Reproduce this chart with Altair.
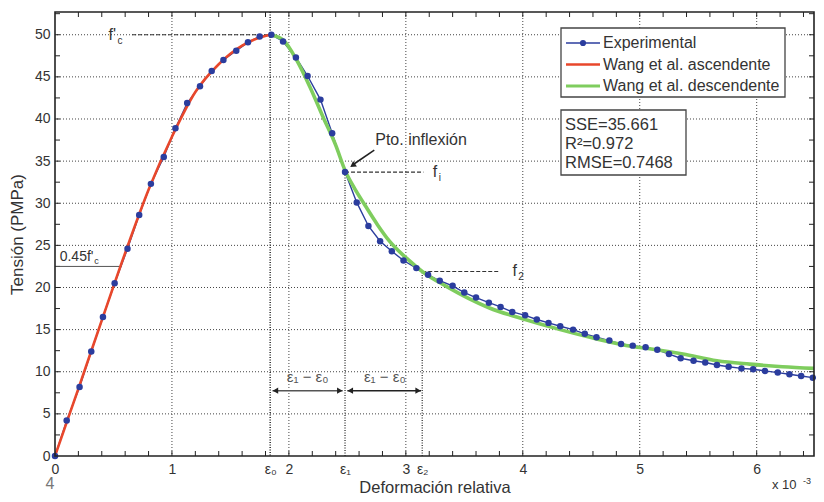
import altair as alt
import pandas as pd

# ---------------- data (x in 1e-3, y in MPa) ----------------
asc_x = [0.00, 0.10, 0.21, 0.31, 0.41, 0.51, 0.62, 0.72, 0.82, 0.93, 1.03, 1.13,
         1.24, 1.34, 1.44, 1.55, 1.65, 1.75, 1.85]
asc_y = [0.0, 4.2, 8.2, 12.4, 16.5, 20.5, 24.6, 28.6, 32.3, 35.5, 38.9, 41.9,
         43.9, 45.7, 47.0, 48.1, 49.1, 49.8, 50.0]
desc_x = [1.95, 2.06, 2.16, 2.27, 2.37, 2.48, 2.58, 2.68, 2.78, 2.88, 2.98, 3.09,
          3.19, 3.29, 3.40, 3.50, 3.60, 3.71, 3.81, 3.91, 4.02, 4.12, 4.22, 4.32,
          4.43, 4.53, 4.63, 4.74, 4.84, 4.94, 5.05, 5.15, 5.25, 5.35, 5.46, 5.56,
          5.66, 5.76, 5.87, 5.97, 6.07, 6.18, 6.28, 6.38, 6.48]
desc_y = [49.2, 47.3, 45.1, 42.3, 38.3, 33.7, 30.1, 27.3, 25.5, 24.3, 23.2, 22.3,
          21.5, 20.8, 20.2, 19.4, 18.8, 18.2, 17.7, 17.1, 16.7, 16.2, 15.8, 15.4,
          15.0, 14.5, 14.1, 13.7, 13.3, 13.1, 12.9, 12.6, 12.1, 11.6, 11.3, 11.1,
          10.8, 10.6, 10.4, 10.3, 10.1, 9.9, 9.7, 9.5, 9.3]
red_x = [0.0, 0.2, 0.4, 0.6, 0.8, 1.0, 1.2, 1.4, 1.6, 1.7, 1.84]
red_y = [0.0, 8.0, 16.1, 24.1, 31.6, 37.9, 43.2, 46.5, 48.7, 49.4, 50.0]
green_x = [1.84, 1.95, 2.07, 2.18, 2.29, 2.40, 2.48, 2.56, 2.64, 2.76, 2.86, 3.02,
           3.14, 3.35, 3.71, 4.02, 4.32, 4.63, 4.94, 5.10, 5.37, 5.66, 5.94, 6.22, 6.49]
green_y = [50.0, 49.4, 46.9, 43.8, 40.3, 36.9, 33.9, 31.8, 30.0, 27.4, 25.5, 23.3,
           21.9, 20.1, 17.6, 16.2, 15.0, 13.9, 13.0, 12.7, 12.1, 11.3, 10.9, 10.6, 10.4]

x_tick_labels = [0, 1, 2, 3, 4, 5, 6]
y_tick_labels = [0, 5, 10, 15, 20, 25, 30, 35, 40, 45, 50]
eps_pos = [1.84, 2.48, 3.14]
eps_labels = ["ε₀", "ε₁", "ε₂"]
f_c, f_i, f_2 = 50.0, 33.7, 21.9
legend_labels = ["Experimental", "Wang et al. ascendente", "Wang et al. descendente"]
stats_lines = ["SSE=35.661", "R²=0.972", "RMSE=0.7468"]

# ---------------- styling ----------------
W, H = 759, 444
XMAX, YMAX = 6.49, 52.7
FONT = "Liberation Sans"
BLUE = "#2b3d9e"
RED = "#e8472b"
GREEN = "#7fcd5e"
GRID = "#444444"
TXT = "#333333"

xs = alt.Scale(domain=[0, XMAX], nice=False, zero=False)
ys = alt.Scale(domain=[0, YMAX], nice=False, zero=False)

label_expr = " : ".join(
    f"datum.value == {p} ? '{l}'" for p, l in zip(eps_pos, eps_labels)
) + " : format(datum.value, 'd')"
x_axis = alt.Axis(values=sorted(x_tick_labels + eps_pos), labelExpr=label_expr,
                  ticks=False, grid=False, domain=False, labelOverlap=False,
                  labelFlush=False, labelPadding=6, labelFontSize=14, labelFont=FONT,
                  labelColor=TXT, title="Deformación relativa", titleFont=FONT,
                  titleFontSize=16.5, titleFontWeight="normal", titleColor=TXT,
                  titlePadding=3)
y_axis = alt.Axis(values=y_tick_labels, ticks=False, grid=False, domain=False,
                  labelPadding=5, labelFontSize=14, labelFont=FONT, labelColor=TXT,
                  title="Tensión (PMPa)", titleFont=FONT, titleFontSize=17,
                  titleFontWeight="normal", titleColor=TXT, titlePadding=8)


def X(f="x"):
    return alt.X(f"{f}:Q", scale=xs, axis=x_axis)


def Y(f="y"):
    return alt.Y(f"{f}:Q", scale=ys, axis=y_axis)


exp_df = pd.DataFrame({"x": asc_x + desc_x, "y": asc_y + desc_y})
red_df = pd.DataFrame({"x": red_x, "y": red_y})
green_df = pd.DataFrame({"x": green_x, "y": green_y})

# grid
gx = pd.DataFrame({"x": x_tick_labels[1:]})
gy = pd.DataFrame({"y": y_tick_labels[1:]})
grid_v = alt.Chart(gx).mark_rule(color=GRID, strokeDash=[1, 2], strokeWidth=1).encode(x=X())
grid_h = alt.Chart(gy).mark_rule(color=GRID, strokeDash=[1, 2], strokeWidth=1).encode(y=Y())

# epsilon lines
eps0_line = alt.Chart(pd.DataFrame({"x": [eps_pos[0]]})).mark_rule(
    color="#333", strokeDash=[1, 1.5], strokeWidth=1.6).encode(x=X())
eps_part = alt.Chart(pd.DataFrame({"x": eps_pos[1:], "y": [0, 0], "y2": [f_i, f_2]})).mark_rule(
    color="#333", strokeDash=[1, 1.5], strokeWidth=1.3).encode(x=X(), y=Y(), y2="y2:Q")

# ticks (inward)
tx = pd.DataFrame({"x": [round(0.2 * i, 1) for i in range(1, 33)]})
ty = pd.DataFrame({"y": [2.5 * i for i in range(1, 22)]})
tick_b = alt.Chart(tx).mark_rule(color="#222").encode(x=X(), y=alt.value(H), y2=alt.value(H - 5))
tick_t = alt.Chart(tx).mark_rule(color="#222").encode(x=X(), y=alt.value(0), y2=alt.value(5))
tick_l = alt.Chart(ty).mark_rule(color="#222").encode(y=Y(), x=alt.value(0), x2=alt.value(5))
tick_r = alt.Chart(ty).mark_rule(color="#222").encode(y=Y(), x=alt.value(W), x2=alt.value(W - 5))

# border
border = alt.Chart(pd.DataFrame({"a": [0]})).mark_rect(
    fill="transparent", stroke="#222", strokeWidth=1.6).encode(
    x=alt.value(0), x2=alt.value(W), y=alt.value(0), y2=alt.value(H))

# series
blue_line = alt.Chart(exp_df).mark_line(color=BLUE, strokeWidth=1.4).encode(x=X(), y=Y())
green_line = alt.Chart(green_df).mark_line(color=GREEN, strokeWidth=3.6, interpolate="monotone").encode(x=X(), y=Y())
red_line = alt.Chart(red_df).mark_line(color=RED, strokeWidth=2.6, interpolate="monotone").encode(x=X(), y=Y())
blue_pts = alt.Chart(exp_df).mark_circle(color=BLUE, size=42, opacity=1).encode(x=X(), y=Y())

# annotations (data coordinates)
dash_df = pd.DataFrame({"x": [0.66, eps_pos[1], eps_pos[2]],
                        "x2": [eps_pos[0], 3.15, 3.80],
                        "y": [f_c, f_i, f_2]})
dash_lines = alt.Chart(dash_df).mark_rule(color="#333", strokeDash=[4, 2], strokeWidth=1.2).encode(
    x=X(), x2="x2:Q", y=Y())
under_045 = alt.Chart(pd.DataFrame({"x": [0.0], "x2": [0.57], "y": [0.45 * f_c]})).mark_rule(
    color="#555", strokeWidth=1).encode(x=X(), x2="x2:Q", y=Y())

big_txt = pd.DataFrame({"x": [0.49, 3.25, 3.93], "y": [f_c, f_i, f_2], "t": ["f'", "f", "f"]})
big_labels = alt.Chart(big_txt).mark_text(font=FONT, fontSize=16, color=TXT, baseline="middle").encode(
    x=X(), y=Y(), text="t:N")
sub_txt = pd.DataFrame({"x": [0.555, 3.29, 3.985], "y": [49.3, 33.0, 21.2], "t": ["c", "i", "2"]})
sub_labels = alt.Chart(sub_txt).mark_text(font=FONT, fontSize=10, color=TXT, baseline="middle").encode(
    x=X(), y=Y(), text="t:N")
lab045 = alt.Chart(pd.DataFrame({"x": [0.04], "y": [23.6], "t": ["0.45f'"]})).mark_text(
    font=FONT, fontSize=14, color=TXT, align="left", baseline="middle").encode(x=X(), y=Y(), text="t:N")
lab045c = alt.Chart(pd.DataFrame({"x": [0.355], "y": [23.1], "t": ["c"]})).mark_text(
    font=FONT, fontSize=9, color=TXT, baseline="middle").encode(x=X(), y=Y(), text="t:N")
pto = alt.Chart(pd.DataFrame({"x": [3.13], "y": [37.5], "t": ["Pto. inflexión"]})).mark_text(
    font=FONT, fontSize=16, color=TXT, baseline="middle").encode(x=X(), y=Y(), text="t:N")

pto_arrow = alt.Chart(pd.DataFrame({"x": [2.73], "x2": [2.55], "y": [36.3], "y2": [34.6]})).mark_rule(
    color="#222", strokeWidth=1.6).encode(x=X(), x2="x2:Q", y=Y(), y2="y2:Q")
pto_head = alt.Chart(pd.DataFrame({"x": [2.545], "y": [34.5]})).mark_point(
    shape="triangle-up", filled=True, color="#222", size=45, angle=234.7, opacity=1).encode(x=X(), y=Y())

arr_df = pd.DataFrame({"x": [1.86, 2.50], "x2": [2.46, 3.13], "y": [7.75, 7.75],
                       "c": ["#555555", "#222222"]})
arrows = alt.Chart(arr_df).mark_rule(strokeWidth=1.6).encode(
    x=X(), x2="x2:Q", y=Y(), color=alt.Color("c:N", scale=None))
heads_l = alt.Chart(pd.DataFrame({"x": [1.885, 2.525], "y": [7.75, 7.75]})).mark_point(
    shape="triangle-left", filled=True, color="#222", size=40, opacity=1).encode(x=X(), y=Y())
heads_r = alt.Chart(pd.DataFrame({"x": [2.435, 3.105], "y": [7.75, 7.75]})).mark_point(
    shape="triangle-right", filled=True, color="#222", size=40, opacity=1).encode(x=X(), y=Y())
arr_lab = alt.Chart(pd.DataFrame({"x": [2.16, 2.82], "y": [9.4, 9.4],
                                  "t": ["ε₁ − ε₀", "ε₁ − ε₀"]})).mark_text(
    font=FONT, fontSize=15, color="#555", baseline="middle").encode(x=X(), y=Y(), text="t:N")

# ---------------- legend and stats box (pixel layout) ----------------
leg_box = alt.Chart(pd.DataFrame({"a": [0]})).mark_rect(
    fill="white", stroke="#444", strokeWidth=1.3).encode(
    x=alt.value(506), x2=alt.value(730), y=alt.value(16), y2=alt.value(85))
leg_rows = [31, 52.5, 74]
leg_cols = [BLUE, RED, GREEN]
leg_w = [1.5, 2.6, 3.2]
leg_layers = []
for lab, yy, col, sw in zip(legend_labels, leg_rows, leg_cols, leg_w):
    leg_layers.append(alt.Chart(pd.DataFrame({"t": [lab]})).mark_rule(color=col, strokeWidth=sw).encode(
        x=alt.value(511), x2=alt.value(545), y=alt.value(yy)))
    leg_layers.append(alt.Chart(pd.DataFrame({"t": [lab]})).mark_text(
        font=FONT, fontSize=16, color=TXT, align="left", baseline="middle").encode(
        x=alt.value(548), y=alt.value(yy), text="t:N"))
leg_dot = alt.Chart(pd.DataFrame({"a": [0]})).mark_circle(color=BLUE, size=38, opacity=1).encode(
    x=alt.value(528), y=alt.value(31))

stat_box = alt.Chart(pd.DataFrame({"a": [0]})).mark_rect(
    fill="white", stroke="#444", strokeWidth=1.3).encode(
    x=alt.value(506), x2=alt.value(631), y=alt.value(98), y2=alt.value(163))
stat_layers = []
for s, yy in zip(stats_lines, [113, 132, 151]):
    stat_layers.append(alt.Chart(pd.DataFrame({"t": [s]})).mark_text(
        font=FONT, fontSize=16.5, color=TXT, align="left", baseline="middle").encode(
        x=alt.value(510), y=alt.value(yy), text="t:N"))

x10 = alt.Chart(pd.DataFrame({"t": ["x 10"]})).mark_text(
    font=FONT, fontSize=13, color=TXT, align="left", baseline="bottom").encode(
    x=alt.value(717), y=alt.value(480), text="t:N")
x10e = alt.Chart(pd.DataFrame({"t": ["-3"]})).mark_text(
    font=FONT, fontSize=9, color=TXT, align="left", baseline="middle").encode(
    x=alt.value(748), y=alt.value(469), text="t:N")
four = alt.Chart(pd.DataFrame({"t": ["4"]})).mark_text(
    font=FONT, fontSize=16, color="#777", baseline="bottom").encode(
    x=alt.value(-5), y=alt.value(480), text="t:N")

chart = alt.layer(
    grid_v, grid_h, eps0_line, eps_part,
    tick_b, tick_t, tick_l, tick_r,
    dash_lines, under_045,
    blue_line, green_line, red_line, blue_pts,
    big_labels, sub_labels, lab045, lab045c, pto, pto_arrow, pto_head,
    arrows, heads_l, heads_r, arr_lab,
    leg_box, *leg_layers, leg_dot, stat_box, *stat_layers,
    x10, x10e, four, border,
).properties(
    width=W, height=H, autosize="none",
    padding={"left": 47, "top": 4, "right": 2, "bottom": 38},
).configure(background="white").configure_view(strokeWidth=0)

chart.save("out.html", embed_options={"renderer": "svg", "actions": False})
